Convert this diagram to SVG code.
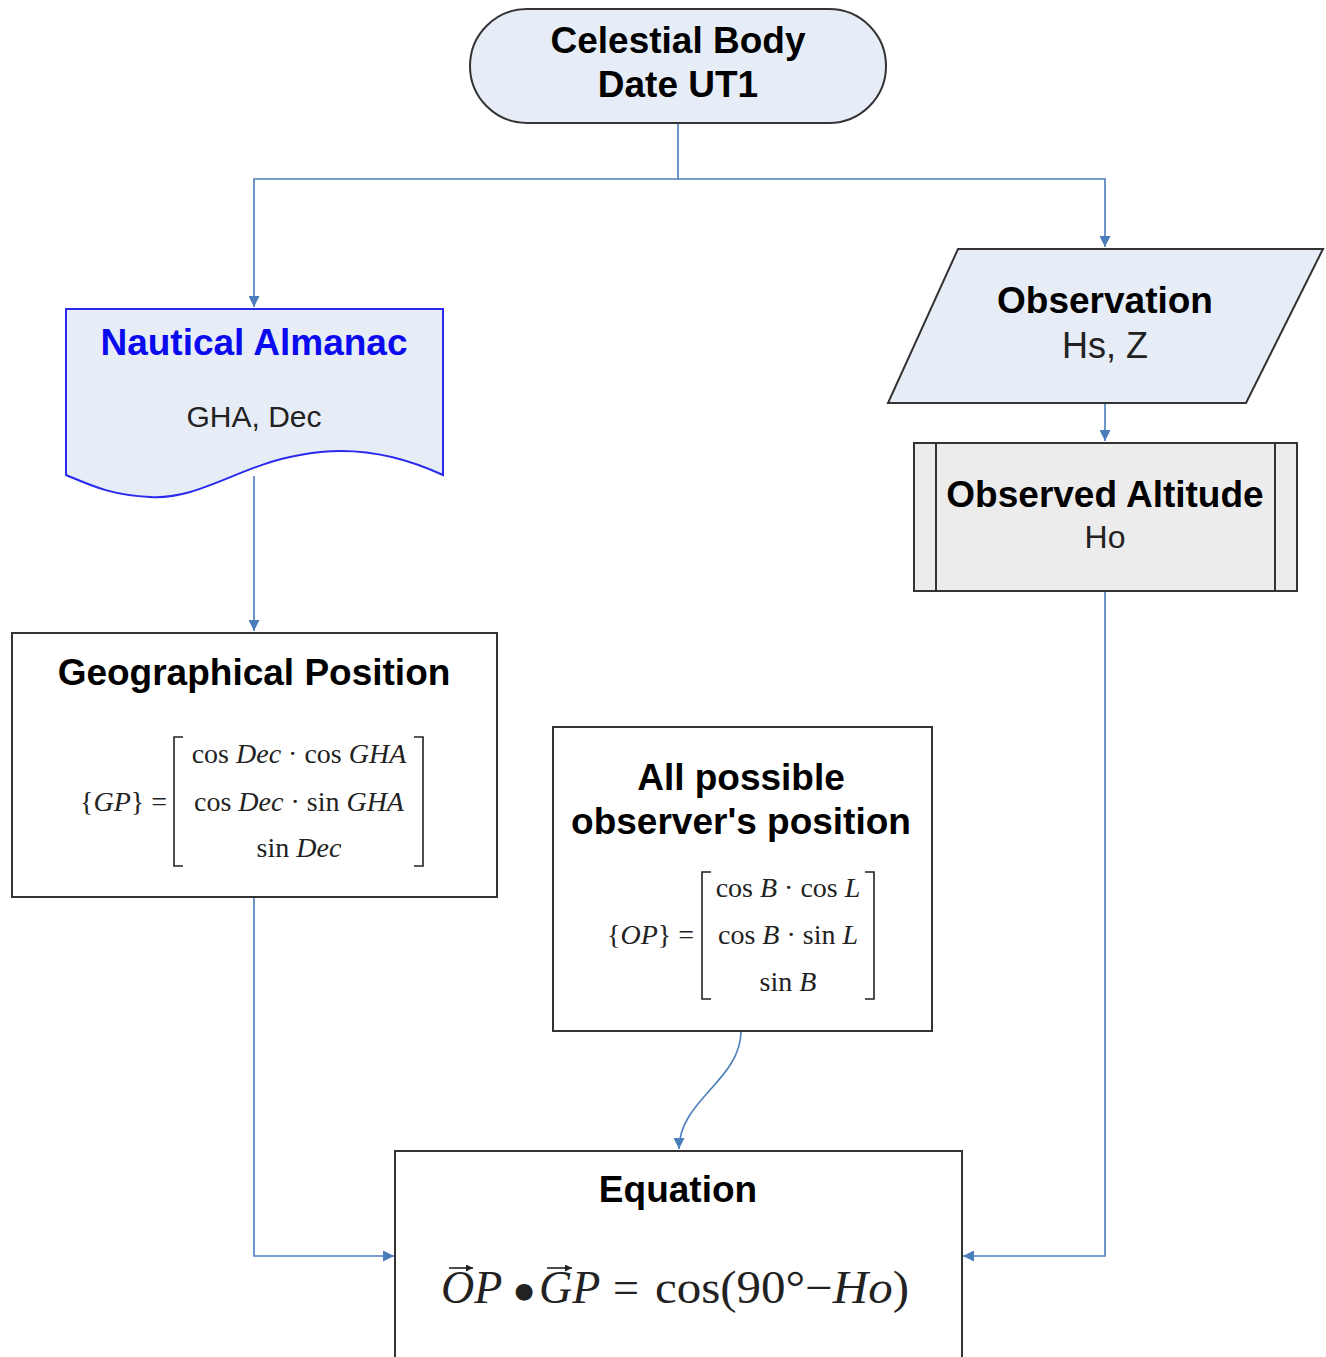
<svg xmlns="http://www.w3.org/2000/svg" width="1326" height="1357" viewBox="0 0 1326 1357">
<defs>
<style>
.title{font-family:"Liberation Sans",Arial,sans-serif;font-weight:bold;font-size:37px;fill:#000;text-anchor:middle}
.sub{font-family:"Liberation Sans",Arial,sans-serif;font-size:32px;fill:#222;text-anchor:middle}
.math{font-family:"Liberation Serif","Times New Roman",serif;font-size:28px;fill:#222}
.eq{font-family:"Liberation Serif","Times New Roman",serif;font-size:46px;fill:#222}
.it{font-style:italic}
.box{fill:#fff;stroke:#333;stroke-width:2}
.conn{fill:none;stroke:#4a7ebb;stroke-width:1.6}
.brk{fill:none;stroke:#222;stroke-width:1.6}
</style>
<marker id="ah" viewBox="0 0 10 10" refX="10" refY="5" markerWidth="11" markerHeight="11" markerUnits="userSpaceOnUse" orient="auto">
<path d="M0,0 L10,5 L0,10 z" fill="#4a7ebb"/>
</marker>
<marker id="va" viewBox="0 0 10 10" refX="10" refY="5" markerWidth="7" markerHeight="7" markerUnits="userSpaceOnUse" orient="auto">
<path d="M0,0 L10,5 L0,10 z" fill="#222"/>
</marker>
</defs>
<rect width="1326" height="1357" fill="#fff"/>

<g id="connectors">
<path class="conn" d="M678,123 V179 H254 V307" marker-end="url(#ah)"/>
<path class="conn" d="M678,179 H1105 V247" marker-end="url(#ah)"/>
<path class="conn" d="M254,476 V631" marker-end="url(#ah)"/>
<path class="conn" d="M1105,403 V441" marker-end="url(#ah)"/>
<path class="conn" d="M254,897 V1256 H394" marker-end="url(#ah)"/>
<path class="conn" d="M1105,591 V1256 H963" marker-end="url(#ah)"/>
<path class="conn" d="M741,1031 C741,1080 679,1100 679,1149" marker-end="url(#ah)"/>
</g>

<g id="celestial-body">
<rect x="470" y="9" width="416" height="114" rx="57" ry="57" fill="#e7edf7" stroke="#333" stroke-width="2"/>
<text class="title" x="678" y="53">Celestial Body</text>
<text class="title" x="678" y="97">Date UT1</text>
</g>

<g id="nautical-almanac">
<path d="M66,309 H443 V475 C400,455 350,445 300,455 C240,465 200,500 150,497 C110,495 90,485 66,475 Z" fill="#e7edf7" stroke="#2a2aee" stroke-width="2"/>
<text class="title" x="254" y="355" style="fill:#0a0aee">Nautical Almanac</text>
<text class="sub" x="254" y="427" style="font-size:30px">GHA, Dec</text>
</g>

<g id="observation">
<polygon points="958,249 1323,249 1246,403 888,403" fill="#e7edf7" stroke="#333" stroke-width="2"/>
<text class="title" x="1105" y="313">Observation</text>
<text class="sub" x="1105" y="358" style="font-size:36px">Hs, Z</text>
</g>

<g id="observed-altitude">
<rect x="914" y="443" width="383" height="148" fill="#ececec" stroke="#333" stroke-width="2"/>
<line x1="936" y1="443" x2="936" y2="591" stroke="#333" stroke-width="2"/>
<line x1="1275" y1="443" x2="1275" y2="591" stroke="#333" stroke-width="2"/>
<text class="title" x="1105" y="507">Observed Altitude</text>
<text class="sub" x="1105" y="548">Ho</text>
</g>

<g id="geographical-position">
<rect class="box" x="12" y="633" width="485" height="264"/>
<text class="title" x="254" y="685">Geographical Position</text>
<text class="math" x="80" y="811">{<tspan class="it">GP</tspan>} =</text>
<path class="brk" d="M183,737 H174 V866 H183"/>
<path class="brk" d="M414,737 H423 V866 H414"/>
<text class="math" x="299" y="763" text-anchor="middle">cos <tspan class="it">Dec</tspan> · cos <tspan class="it">GHA</tspan></text>
<text class="math" x="299" y="811" text-anchor="middle">cos <tspan class="it">Dec</tspan> · sin <tspan class="it">GHA</tspan></text>
<text class="math" x="299" y="857" text-anchor="middle">sin <tspan class="it">Dec</tspan></text>
</g>

<g id="observer-position">
<rect class="box" x="553" y="727" width="379" height="304"/>
<text class="title" x="741" y="790">All possible</text>
<text class="title" x="741" y="834">observer's position</text>
<text class="math" x="607" y="944">{<tspan class="it">OP</tspan>} =</text>
<path class="brk" d="M711,872 H702 V999 H711"/>
<path class="brk" d="M865,872 H874 V999 H865"/>
<text class="math" x="788" y="897" text-anchor="middle">cos <tspan class="it">B</tspan> · cos <tspan class="it">L</tspan></text>
<text class="math" x="788" y="944" text-anchor="middle">cos <tspan class="it">B</tspan> · sin <tspan class="it">L</tspan></text>
<text class="math" x="788" y="991" text-anchor="middle">sin <tspan class="it">B</tspan></text>
</g>

<g id="equation">
<rect class="box" x="395" y="1151" width="567" height="220"/>
<text class="title" x="678" y="1202">Equation</text>
<text class="eq it" x="441" y="1303">OP</text>
<text class="eq" x="524" y="1298" text-anchor="middle" style="font-family:'DejaVu Sans',sans-serif;font-size:22px">●</text>
<text class="eq it" x="539" y="1303">GP</text>
<text class="eq" x="613" y="1303">=</text>
<text class="eq" x="655" y="1303" textLength="254" lengthAdjust="spacingAndGlyphs">cos(90°−<tspan class="it">Ho</tspan>)</text>
<path d="M449,1268 H473" stroke="#222" stroke-width="1.6" marker-end="url(#va)"/>
<path d="M547,1268 H572" stroke="#222" stroke-width="1.6" marker-end="url(#va)"/>
</g>
</svg>
